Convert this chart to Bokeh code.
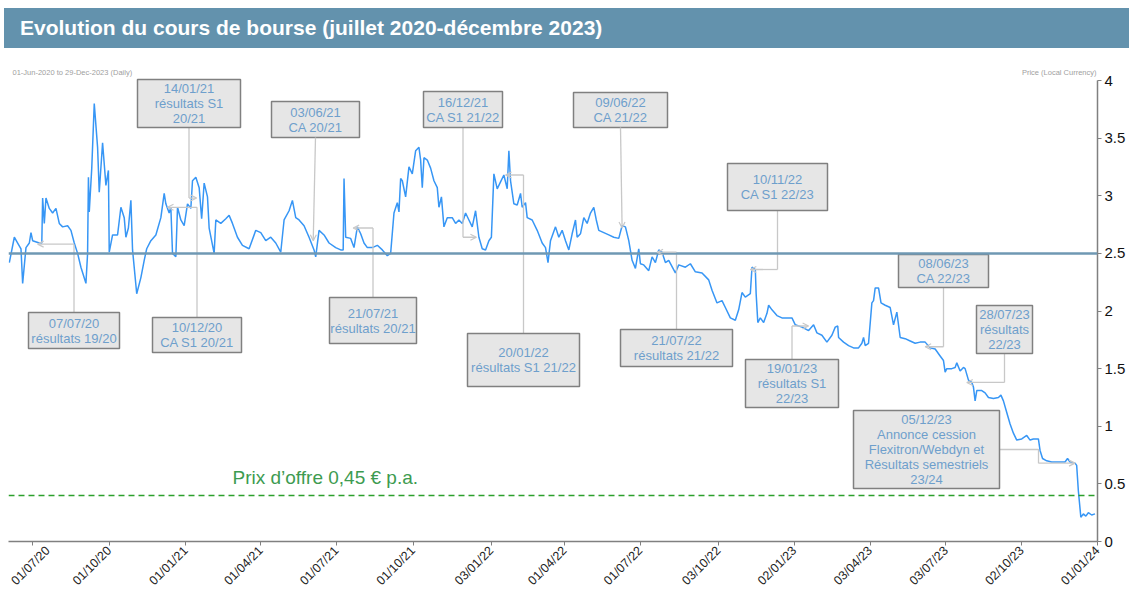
import math
import pandas as pd
from bokeh.plotting import figure
from bokeh.models import (Span, Label, Arrow, OpenHead, FixedTicker, DatetimeTickFormatter,
                          NumeralTickFormatter, Range1d, Div)
from bokeh.layouts import column
from bokeh.embed import file_html
from bokeh.resources import INLINE
from bokeh.core.properties import value

# ---------------- data ----------------
START = pd.Timestamp("2020-07-01")   # day_offset is counted from this date

day_offset = [
    -28, -22, -18, -14, -12, -8, -4, -2, 0, 8,
    11, 12, 14, 16, 20, 24, 28, 32, 36, 42,
    46, 50, 54, 58, 64, 66, 67, 68, 71, 74,
    78, 80, 84, 88, 91, 92, 96, 102, 106, 110,
    112, 115, 118, 120, 125, 130, 134, 137, 142, 148,
    154, 158, 160, 164, 166, 168, 172, 174, 178, 182,
    186, 190, 192, 196, 200, 203, 206, 210, 212, 218,
    220, 226, 232, 236, 240, 246, 252, 260, 268, 274,
    280, 286, 292, 298, 302, 308, 312, 316, 320, 326,
    332, 338, 340, 344, 350, 356, 364, 370, 373, 374,
    376, 382, 386, 390, 394, 398, 402, 408, 414, 420,
    426, 430, 434, 438, 440, 442, 444, 448, 452, 456,
    460, 464, 466, 468, 470, 474, 478, 482, 486, 488,
    491, 494, 498, 504, 508, 512, 516, 520, 524, 528,
    532, 536, 540, 544, 548, 551, 554, 558, 562, 566,
    570, 572, 574, 578, 582, 586, 588, 592, 594, 600,
    606, 612, 616, 619, 622, 628, 632, 636, 640, 644,
    648, 652, 654, 658, 662, 666, 670, 674, 677, 680,
    686, 692, 698, 704, 708, 712, 716, 720, 724, 728,
    730, 734, 740, 744, 748, 752, 756, 760, 764, 772,
    776, 784, 790, 796, 804, 812, 816, 822, 828, 832,
    838, 844, 848, 852, 856, 862, 864, 868, 869, 871,
    874, 878, 882, 884, 888, 894, 900, 906, 912, 916,
    924, 932, 938, 942, 948, 954, 960, 964, 967, 968,
    974, 980, 986, 992, 996, 998, 1000, 1004, 1008, 1010,
    1012, 1016, 1019, 1024, 1030, 1034, 1038, 1042, 1048, 1054,
    1060, 1066, 1072, 1078, 1084, 1090, 1094, 1096, 1098, 1104,
    1108, 1110, 1114, 1118, 1120, 1124, 1128, 1130, 1132, 1134,
    1140, 1144, 1148, 1154, 1160, 1163, 1166, 1170, 1174, 1178,
    1182, 1188, 1194, 1198, 1202, 1208, 1210, 1213, 1218, 1224,
    1232, 1240, 1243, 1246, 1252, 1254, 1256, 1259, 1262, 1265,
    1268, 1272, 1276,
]

price = [
    2.42, 2.64, 2.59, 2.54, 2.24, 2.55, 2.59, 2.68, 2.61, 2.59,
    2.59, 2.98, 2.76, 2.98, 2.89, 2.85, 2.89, 2.76, 2.73, 2.74,
    2.70, 2.59, 2.50, 2.38, 2.24, 2.50, 3.16, 2.86, 3.24, 3.80,
    3.42, 3.03, 3.46, 3.09, 3.22, 2.51, 2.66, 2.66, 2.90, 2.81,
    2.64, 2.72, 2.96, 2.53, 2.15, 2.29, 2.44, 2.54, 2.61, 2.66,
    2.81, 3.02, 2.93, 2.85, 2.90, 2.50, 2.47, 2.90, 2.79, 2.74,
    2.93, 2.89, 3.13, 3.16, 3.07, 2.80, 3.11, 2.99, 2.72, 2.50,
    2.79, 2.76, 2.80, 2.83, 2.76, 2.64, 2.57, 2.54, 2.70, 2.68,
    2.61, 2.64, 2.59, 2.51, 2.79, 2.87, 2.96, 2.81, 2.79, 2.74,
    2.64, 2.53, 2.47, 2.70, 2.66, 2.59, 2.55, 2.53, 2.53, 3.15,
    2.64, 2.63, 2.55, 2.73, 2.67, 2.59, 2.55, 2.55, 2.57, 2.53,
    2.48, 2.50, 2.85, 2.94, 2.86, 3.15, 3.13, 2.99, 3.25, 3.19,
    3.39, 3.42, 3.31, 3.07, 3.33, 3.31, 3.24, 3.13, 3.07, 2.90,
    2.99, 2.73, 2.81, 2.81, 2.76, 2.79, 2.76, 2.85, 2.79, 2.73,
    2.87, 2.64, 2.54, 2.53, 2.61, 2.64, 3.19, 3.06, 3.12, 3.18,
    3.06, 3.39, 3.13, 2.93, 2.92, 3.02, 2.90, 2.94, 2.81, 2.79,
    2.70, 2.59, 2.55, 2.42, 2.61, 2.73, 2.64, 2.70, 2.61, 2.53,
    2.67, 2.79, 2.64, 2.67, 2.81, 2.76, 2.85, 2.90, 2.79, 2.70,
    2.68, 2.66, 2.64, 2.63, 2.74, 2.73, 2.61, 2.44, 2.37, 2.54,
    2.41, 2.40, 2.35, 2.47, 2.42, 2.53, 2.51, 2.42, 2.44, 2.33,
    2.40, 2.38, 2.41, 2.34, 2.33, 2.27, 2.18, 2.07, 2.09, 2.03,
    1.94, 1.92, 2.01, 2.16, 2.12, 2.15, 2.38, 2.36, 2.15, 1.90,
    1.94, 1.90, 1.98, 2.05, 2.01, 1.96, 1.94, 1.94, 1.94, 1.88,
    1.86, 1.83, 1.88, 1.81, 1.79, 1.73, 1.79, 1.86, 1.87, 1.77,
    1.73, 1.70, 1.68, 1.68, 1.72, 1.77, 1.70, 1.72, 2.07, 2.09,
    2.20, 2.20, 2.07, 2.05, 2.03, 1.88, 1.99, 1.77, 1.76, 1.74,
    1.72, 1.73, 1.73, 1.68, 1.67, 1.61, 1.57, 1.47, 1.50, 1.50,
    1.51, 1.55, 1.48, 1.51, 1.50, 1.40, 1.38, 1.34, 1.22, 1.31,
    1.31, 1.29, 1.25, 1.24, 1.25, 1.27, 1.22, 1.12, 1.02, 0.94,
    0.88, 0.89, 0.92, 0.88, 0.89, 0.89, 0.79, 0.72, 0.70, 0.69,
    0.69, 0.69, 0.72, 0.69, 0.68, 0.66, 0.44, 0.21, 0.24, 0.22,
    0.25, 0.23, 0.24,
]

x_tick_dates = ["2020-07-01", "2020-10-01", "2021-01-01", "2021-04-01", "2021-07-01",
                "2021-10-01", "2022-01-03", "2022-04-01", "2022-07-01", "2022-10-03",
                "2023-01-02", "2023-04-03", "2023-07-03", "2023-10-02", "2024-01-01"]
y_ticks = [0, 0.5, 1, 1.5, 2, 2.5, 3, 3.5, 4]

event_dates = ["2020-07-07", "2020-12-10", "2021-01-14", "2021-06-03", "2021-07-21",
               "2021-12-16", "2022-01-20", "2022-06-09", "2022-07-21", "2022-11-10",
               "2023-01-19", "2023-06-08", "2023-07-28", "2023-12-05"]
event_prices = [2.58, 2.90, 2.98, 2.61, 2.72, 2.64, 3.18, 2.72, 2.51, 2.36,
                1.87, 1.69, 1.38, 0.68]
event_texts = [
    "07/07/20\nrésultats 19/20",
    "10/12/20\nCA S1 20/21",
    "14/01/21\nrésultats S1\n20/21",
    "03/06/21\nCA 20/21",
    "21/07/21\nrésultats 20/21",
    "16/12/21\nCA S1 21/22",
    "20/01/22\nrésultats S1 21/22",
    "09/06/22\nCA 21/22",
    "21/07/22\nrésultats 21/22",
    "10/11/22\nCA S1 22/23",
    "19/01/23\nrésultats S1\n22/23",
    "08/06/23\nCA 22/23",
    "28/07/23\nrésultats\n22/23",
    "05/12/23\nAnnonce cession\nFlexitron/Webdyn et\nRésultats semestriels\n23/24",
]

reference_level = 2.5
offer_level = 0.40
offer_text = "Prix d\u2019offre 0,45 \u20ac p.a."
title_text = "Evolution du cours de bourse (juillet 2020-décembre 2023)"

# ---------------- layout helpers (page pixels -> data) ----------------
PAGE_W, PAGE_H = 1129, 600
BANNER_TOP, BANNER_H, BANNER_LEFT = 8, 40, 4
FIG_TOP = BANNER_TOP + BANNER_H          # figure starts right under the banner
FX0, FX1 = 8, 1097                       # frame left / right (page px)
FY0, FY1 = FIG_TOP, 541                  # frame top / bottom (page px)
FW, FH = FX1 - FX0, FY1 - FY0
X_START = pd.Timestamp("2020-06-02")
X_END = pd.Timestamp("2024-01-01")
Y_AXIS_TOP = 4.0
Y_TOP = Y_AXIS_TOP * FH / (FY1 - 80)     # value 4 sits at page y 80


def ms(ts):
    return pd.Timestamp(ts).value / 1e6


def px_x(px):
    return ms(X_START) + (ms(X_END) - ms(X_START)) * (px - FX0) / FW


def px_y(py):
    return Y_TOP * (FY1 - py) / FH


def x_px(msv):
    return FX0 + FW * (msv - ms(X_START)) / (ms(X_END) - ms(X_START))


# box rectangles in page pixels (left, right, top, bottom)
box_px = [(28, 119, 312, 348), (152, 241, 317, 352), (137, 240, 79, 127), (271, 359, 101, 137),
          (329, 416, 297, 343), (423, 502, 91, 127), (467, 579, 333, 386), (573, 667, 92, 127),
          (620, 732, 329, 366), (727, 827, 163, 210), (745, 838, 359, 407), (898, 988, 254, 287),
          (976, 1032, 305, 353), (853, 999, 410, 488)]
side_elbow_px = 1038

# ---------------- figure ----------------
LINE_COLOR = "#3796f5"
TEXT_BLUE = "#6e9fcc"
CONN = "#c8c8c8"

p = figure(width=PAGE_W - FX0, height=PAGE_H - FIG_TOP, x_axis_type="datetime", y_axis_location="right",
           x_range=Range1d(ms(X_START), ms(X_END)), y_range=Range1d(0, Y_TOP),
           output_backend="svg", toolbar_location=None, margin=(0, 0, 0, FX0),
           min_border_left=0, min_border_top=0, min_border_right=PAGE_W - FX1,
           min_border_bottom=PAGE_H - FY1,
           outline_line_color=None, background_fill_color="white", border_fill_color="white")
p.xgrid.visible = False
p.ygrid.visible = False

dates_ms = [ms(START + pd.Timedelta(days=d)) for d in day_offset]
p.line(dates_ms, price, line_color=LINE_COLOR, line_width=1.5)

p.add_layout(Span(location=reference_level, dimension="width", line_color="#6f98b3", line_width=2.5))
p.add_layout(Span(location=offer_level, dimension="width", line_color="#2ca02c", line_width=1.5,
                  line_dash="6 4"))

# connectors
conn_xs, conn_ys = [], []
for d, pr, (l, r, t, b) in zip(event_dates, event_prices, box_px):
    tip_x = ms(d)
    tip_y = pr
    cx = (l + r) / 2
    box_above = px_y(b) > tip_y
    edge = b if box_above else t
    if d == event_dates[-1]:
        my = (t + b) / 2
        conn_xs.append([px_x(r), px_x(side_elbow_px), px_x(side_elbow_px)])
        conn_ys.append([px_y(my), px_y(my), tip_y])
        sx, sy = px_x(side_elbow_px), tip_y
    elif abs(cx - x_px(tip_x)) < 6:
        sx, sy = px_x(cx), px_y(edge)
    else:
        conn_xs.append([px_x(cx), px_x(cx)])
        conn_ys.append([px_y(edge), tip_y])
        sx, sy = px_x(cx), tip_y
    p.add_layout(Arrow(end=OpenHead(size=6, line_color=CONN, line_width=1.2),
                       x_start=sx, y_start=sy, x_end=tip_x, y_end=tip_y,
                       line_color=CONN, line_width=1.3))
p.multi_line(conn_xs, conn_ys, line_color=CONN, line_width=1.3)

# boxes
p.quad(left=[px_x(b[0]) for b in box_px], right=[px_x(b[1]) for b in box_px],
       top=[px_y(b[2]) for b in box_px], bottom=[px_y(b[3]) for b in box_px],
       fill_color="#e6e6e6", line_color="#808080", line_width=1.5)
p.text(x=[px_x((b[0] + b[1]) / 2) for b in box_px], y=[px_y((b[2] + b[3]) / 2) for b in box_px],
       text=event_texts, text_align="center", text_baseline="middle",
       text_font=value("Liberation Sans"), text_font_size="13px", text_color=TEXT_BLUE,
       text_line_height=1.0)

# offer label
p.add_layout(Label(x=px_x(232), y=px_y(477), text=offer_text, text_baseline="middle",
                   text_font="Liberation Sans", text_font_size="19px", text_color="#3d9b50"))

# small header texts
p.add_layout(Label(x=px_x(12), y=px_y(72), text="01-Jun-2020 to 29-Dec-2023 (Daily)",
                   text_baseline="middle", text_font="Liberation Sans", text_font_size="7.5px",
                   text_color="#a0a0a0"))
p.add_layout(Label(x=px_x(1096), y=px_y(72), text="Price (Local Currency)", text_align="right",
                   text_baseline="middle", text_font="Liberation Sans", text_font_size="7.5px",
                   text_color="#a0a0a0"))

# axes
xa = p.xaxis[0]
xa.ticker = FixedTicker(ticks=[ms(d) for d in x_tick_dates])
fmt = "%d/%m/%y"
xa.formatter = DatetimeTickFormatter(milliseconds=fmt, seconds=fmt, minsec=fmt, minutes=fmt,
                                     hourmin=fmt, hours=fmt, days=fmt, months=fmt, years=fmt,
                                     strip_leading_zeros=False)
xa.major_label_orientation = math.pi / 4
xa.major_label_text_font = "Liberation Sans"
xa.major_label_text_font_size = "12.5px"
xa.major_label_text_color = "#222222"
xa.major_label_standoff = 3
xa.axis_line_color = "#808080"
xa.axis_line_width = 1.5
xa.major_tick_line_color = "#808080"
xa.major_tick_out = 4
xa.major_tick_in = 0
xa.minor_tick_line_color = None

ya = p.yaxis[0]
ya.ticker = FixedTicker(ticks=y_ticks)
ya.bounds = (0, Y_AXIS_TOP)
ya.formatter = NumeralTickFormatter(format="0.[0]")
ya.major_label_text_font = "Liberation Sans"
ya.major_label_text_font_size = "15px"
ya.major_label_text_color = "#111111"
ya.axis_line_color = "#808080"
ya.axis_line_width = 1.5
ya.major_tick_line_color = "#808080"
ya.major_tick_out = 4
ya.major_tick_in = 0
ya.minor_tick_line_color = None
ya.major_label_standoff = 3

title = Div(text=title_text, width=PAGE_W - BANNER_LEFT, height=BANNER_H,
            margin=(BANNER_TOP, 0, 0, BANNER_LEFT),
            styles={"background-color": "#6392ad", "color": "white", "font-family": "Liberation Sans, Arial",
                    "font-weight": "bold", "font-size": "21px", "line-height": "40px",
                    "padding-left": "16px", "box-sizing": "border-box"})

layout = column(title, p, spacing=0)

with open("out.html", "w", encoding="utf-8") as f:
    f.write(file_html(layout, INLINE))
